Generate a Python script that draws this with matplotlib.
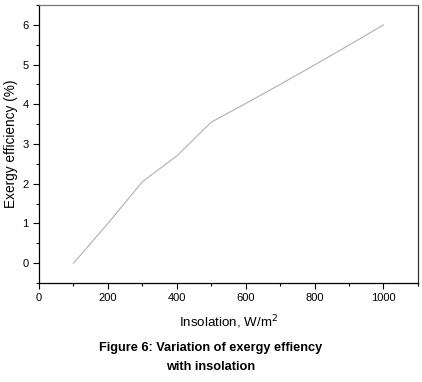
import matplotlib.pyplot as plt
from matplotlib.ticker import MultipleLocator

plt.rcParams['font.family'] = ['Liberation Sans', 'DejaVu Sans']

insolation = [100, 200, 300, 400, 500, 600, 700, 800, 900, 1000]
exergy_eff = [0.0, 1.0, 2.05, 2.7, 3.55, 4.02, 4.5, 4.99, 5.49, 6.0]

fig = plt.figure(figsize=(4.22, 3.82), dpi=100)
ax = fig.add_axes([0.0924, 0.259, 0.898, 0.728])

ax.plot(insolation, exergy_eff, color='#b0b0b0', linewidth=0.8)

ax.set_xlim(0, 1100)
ax.set_ylim(-0.5, 6.5)
ax.xaxis.set_major_locator(MultipleLocator(200))
ax.xaxis.set_minor_locator(MultipleLocator(100))
ax.yaxis.set_major_locator(MultipleLocator(1))
ax.yaxis.set_minor_locator(MultipleLocator(0.5))
ax.tick_params(which='both', direction='out', top=False, right=False,
               labelsize=8, width=0.8)
ax.tick_params(which='major', length=4)
ax.tick_params(which='minor', length=2.5)
for s in ax.spines.values():
    s.set_linewidth(0.9)
ax.spines['top'].set_color('#777777')
ax.spines['right'].set_color('#333333')

ax.set_xlabel('Insolation, W/m$^2$', fontsize=9.6, labelpad=7)
ax.set_ylabel('Exergy efficiency (%)', fontsize=9.8, labelpad=3)

# caption below the plot
fig.text(0.5, 0.089, 'Figure 6: Variation of exergy effiency', ha='center',
         va='center', fontsize=9.2, fontweight='bold')
fig.text(0.5, 0.039, 'with insolation', ha='center', va='center',
         fontsize=9.2, fontweight='bold')

fig.savefig('out.png', dpi=100)
